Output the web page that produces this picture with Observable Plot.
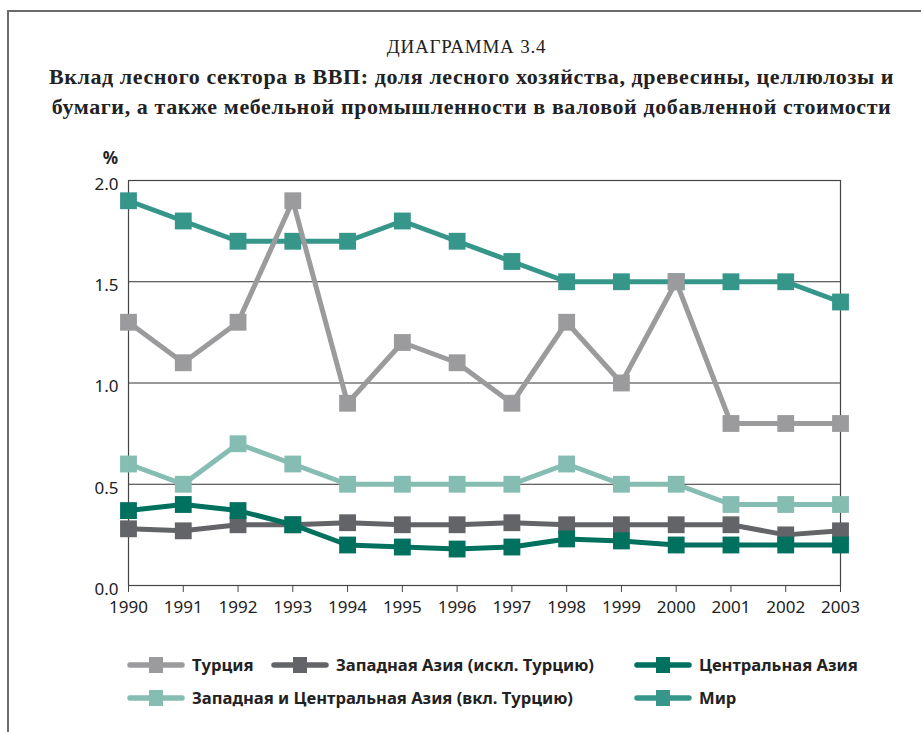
<!DOCTYPE html>
<html>
<head>
<meta charset="utf-8">
<script src="https://cdn.jsdelivr.net/npm/d3@7"></script>
<script src="https://cdn.jsdelivr.net/npm/@observablehq/plot@0.6"></script>
<style>
  body { margin: 0; background: #fff; }
  #page { position: relative; width: 921px; height: 732px; overflow: hidden; background: #fff; }
  #border { position: absolute; left: 7px; top: 10px; width: 940px; height: 760px; border-top: 2px solid #6b6b6b; border-left: 2px solid #6b6b6b; }
  #kicker { position: absolute; top: 36px; left: 0; width: 933px; text-align: center; font-family: "Liberation Serif", serif; font-size: 19px; letter-spacing: 0.8px; color: #222; }
  #title { position: absolute; top: 62px; left: 0; width: 943px; text-align: center; font-family: "Liberation Serif", serif; font-weight: bold; font-size: 22px; letter-spacing: 0.6px; line-height: 30px; color: #222; white-space: nowrap; }
  #chart { position: absolute; top: 140px; left: 0; }
  .leg { position: absolute; display: flex; align-items: center; font-family: "Noto Sans", sans-serif; font-weight: bold; font-size: 16.6px; color: #222; white-space: nowrap; }
  .leg svg { margin-right: 7px; }
</style>
</head>
<body>
<div id="page">
  <div id="border"></div>
  <div id="kicker">ДИАГРАММА 3.4</div>
  <div id="title">Вклад лесного сектора в ВВП: доля лесного хозяйства, древесины, целлюлозы и<br>бумаги, а также мебельной промышленности в валовой добавленной стоимости</div>
  <div id="chart"></div>
</div>
<script>
const years = [1990, 1991, 1992, 1993, 1994, 1995, 1996, 1997, 1998, 1999, 2000, 2001, 2002, 2003];
const yTicks = [0, 0.5, 1.0, 1.5, 2.0];

const turkey      = [1.3, 1.1, 1.3, 1.9, 0.9, 1.2, 1.1, 0.9, 1.3, 1.0, 1.5, 0.8, 0.8, 0.8];
const westAsia    = [0.28, 0.27, 0.30, 0.30, 0.31, 0.30, 0.30, 0.31, 0.30, 0.30, 0.30, 0.30, 0.25, 0.27];
const centralAsia = [0.37, 0.40, 0.37, 0.30, 0.20, 0.19, 0.18, 0.19, 0.23, 0.22, 0.20, 0.20, 0.20, 0.20];
const westCentral = [0.6, 0.5, 0.7, 0.6, 0.5, 0.5, 0.5, 0.5, 0.6, 0.5, 0.5, 0.4, 0.4, 0.4];
const world       = [1.9, 1.8, 1.7, 1.7, 1.7, 1.8, 1.7, 1.6, 1.5, 1.5, 1.5, 1.5, 1.5, 1.4];

const seriesNames  = ["Турция", "Западная Азия (искл. Турцию)", "Центральная Азия", "Западная и Центральная Азия (вкл. Турцию)", "Мир"];
const seriesColors = ["#9b9b9d", "#636467", "#00705f", "#86bdb3", "#37968a"];
const seriesValues = [turkey, westAsia, centralAsia, westCentral, world];
// drawing order (bottom to top)
const drawOrder = [4, 3, 1, 2, 0];

const fmt = d3.format(".1f");
const lineMarks = [];
for (const i of drawOrder) {
  const rows = years.map((y, j) => ({year: y, value: seriesValues[i][j]}));
  lineMarks.push(Plot.line(rows, {x: "year", y: "value", stroke: seriesColors[i], strokeWidth: 5, strokeLinejoin: "miter"}));
  lineMarks.push(Plot.dot(rows, {x: "year", y: "value", symbol: "square", r: 9.5, fill: seriesColors[i], stroke: "none"}));
}

const chart = Plot.plot({
  width: 921,
  height: 480,
  marginLeft: 128,
  marginRight: 81,
  marginTop: 40,
  marginBottom: 35,
  style: {fontFamily: "'Noto Sans', sans-serif", fontSize: "17px", color: "#222", background: "transparent", overflow: "visible"},
  x: {domain: [1990, 2003], label: null},
  y: {domain: [0, 2], label: null},
  marks: [
    Plot.gridY([0.5, 1.0, 1.5], {stroke: "#333", strokeOpacity: 1, strokeWidth: 1}),
    Plot.frame({stroke: "#444", strokeWidth: 1.2}),
    Plot.axisX({ticks: years, tickFormat: d => String(d), tickSize: 7, tickPadding: 8, fontSize: 17, label: null, stroke: "#444"}),
    Plot.axisY({ticks: yTicks, tickFormat: fmt, tickSize: 0, tickPadding: 10, fontSize: 17, dy: 4, label: null}),
    ...lineMarks,
    Plot.text(["%"], {frameAnchor: "top-left", textAnchor: "middle", lineAnchor: "middle", dx: -18, dy: -22, fontSize: 17, fontWeight: "bold", fill: "#222"})
  ]
});
document.getElementById("chart").appendChild(chart);

// legend
const legendPos = [
  {left: 127, top: 653},
  {left: 271, top: 653},
  {left: 634, top: 653},
  {left: 127, top: 686},
  {left: 634, top: 686}
];
const page = document.getElementById("page");
seriesNames.forEach((name, i) => {
  const div = document.createElement("div");
  div.className = "leg";
  div.style.left = legendPos[i].left + "px";
  div.style.top = legendPos[i].top + "px";
  const ns = "http://www.w3.org/2000/svg";
  const svg = document.createElementNS(ns, "svg");
  svg.setAttribute("width", 58);
  svg.setAttribute("height", 20);
  const ln = document.createElementNS(ns, "line");
  ln.setAttribute("x1", 3); ln.setAttribute("x2", 55);
  ln.setAttribute("y1", 10); ln.setAttribute("y2", 10);
  ln.setAttribute("stroke", seriesColors[i]);
  ln.setAttribute("stroke-width", 5.5);
  ln.setAttribute("stroke-linecap", "round");
  svg.appendChild(ln);
  const rc = document.createElementNS(ns, "rect");
  rc.setAttribute("x", 22); rc.setAttribute("y", 2);
  rc.setAttribute("width", 14); rc.setAttribute("height", 16);
  rc.setAttribute("fill", seriesColors[i]);
  svg.appendChild(rc);
  div.appendChild(svg);
  const span = document.createElement("span");
  span.textContent = name;
  div.appendChild(span);
  page.appendChild(div);
});
</script>
</body>
</html>
